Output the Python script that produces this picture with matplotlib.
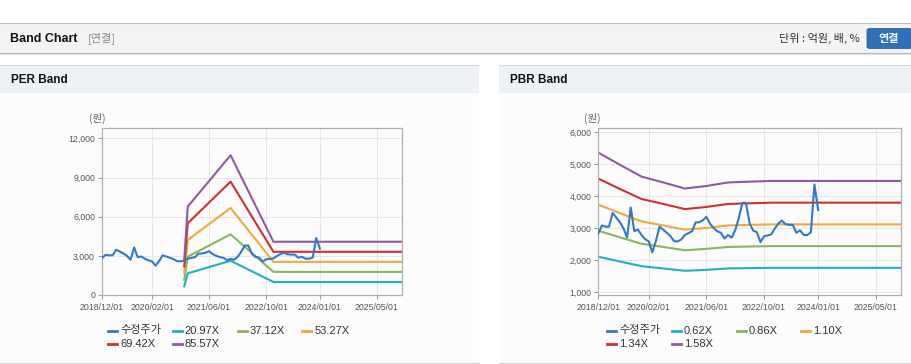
import numpy as np
import pandas as pd
import matplotlib
matplotlib.use('Agg')
import matplotlib.pyplot as plt
from matplotlib.patches import Rectangle, FancyBboxPatch
from matplotlib.lines import Line2D
from matplotlib.ticker import FuncFormatter

plt.rcParams['font.family'] = ['Liberation Sans', 'Noto Sans CJK KR']

# adjusted share price (수정주가), monthly 2018/12 .. 2024/01
price_dates = pd.date_range('2018-12-01', periods=62, freq='MS')
price = [2830, 3080, 3040, 3040, 3470, 3330, 3180, 3000, 2700, 3640,
         2900, 2950, 2780, 2650, 2580, 2240, 2600, 3040, 2950, 2850,
         2750, 2590, 2580, 2640, 2780, 2840, 2900, 3170, 3180, 3240,
         3350, 3140, 3000, 2900, 2850, 2670, 2780, 2700, 2950, 3300,
         3790, 3790, 3150, 2920, 2870, 2560, 2740, 2770, 2800, 2990,
         3150, 3230, 3120, 3100, 3100, 2850, 2930, 2780, 2780, 2870,
         4360, 3560]

# PER band lines
per_dates = pd.to_datetime(['2020-11-01', '2020-12-01', '2021-12-01', '2022-12-01', '2025-12-01'])
per_labels = ['20.97X', '37.12X', '53.27X', '69.42X', '85.57X']
per_2097 = [665, 1660, 2625, 1000, 1000]
per_3712 = [1177, 2940, 4647, 1771, 1771]
per_5327 = [1689, 4219, 6669, 2541, 2541]
per_6942 = [2201, 5498, 8691, 3311, 3311]
per_8557 = [2713, 6777, 10713, 4082, 4082]

# PBR band lines
pbr_dates = pd.to_datetime(['2018-12-01', '2019-06-01', '2019-12-01', '2020-06-01', '2020-12-01',
                            '2021-06-01', '2021-12-01', '2022-06-01', '2022-12-01', '2025-12-01'])
pbr_labels = ['0.62X', '0.86X', '1.10X', '1.34X', '1.58X']
pbr_062 = [2102, 1953, 1807, 1736, 1662, 1693, 1736, 1745, 1755, 1755]
pbr_086 = [2915, 2709, 2507, 2408, 2305, 2348, 2408, 2421, 2434, 2434]
pbr_110 = [3729, 3465, 3207, 3080, 2948, 3003, 3080, 3097, 3113, 3113]
pbr_134 = [4543, 4221, 3906, 3752, 3591, 3658, 3752, 3772, 3792, 3792]
pbr_158 = [5356, 4977, 4606, 4424, 4234, 4313, 4424, 4448, 4471, 4471]

tick_dates = pd.to_datetime(['2018-12-01', '2020-02-01', '2021-06-01', '2022-10-01',
                             '2024-01-01', '2025-05-01'])
x_start, x_end = pd.Timestamp('2018-12-01'), pd.Timestamp('2025-12-01')

price_color = '#3278cc'
band_colors = ['#20b0c2', '#8db55a', '#f4a73a', '#cf3030', '#8f5a9f']

W, H = 912, 364
fig = plt.figure(figsize=(W / 100, H / 100), dpi=100)
fig.patch.set_facecolor('white')


def fx(x):
    return x / W


def fy(y):
    return 1 - y / H


def box(x0, y0, x1, y1, color):
    fig.add_artist(Rectangle((fx(x0), fy(y1)), (x1 - x0) / W, (y1 - y0) / H,
                             transform=fig.transFigure, facecolor=color,
                             edgecolor='none', zorder=0))


def hline(x0, x1, y, color):
    fig.add_artist(Line2D([fx(x0), fx(x1)], [fy(y), fy(y)], transform=fig.transFigure,
                          color=color, lw=0.8, zorder=1))


# page header
hline(0, W, 22.5, '#c4c4c4')
box(0, 23, W, 53, '#f4f4f4')
hline(0, W, 53, '#b5b5b5')
hline(0, W, 54.2, '#e4e4e4')
fig.text(fx(10), fy(38.5), 'Band Chart', fontsize=9, fontweight='bold', color='#111',
         va='center', ha='left')
fig.text(fx(88), fy(38.5), '[연결]', fontsize=8, color='#888', va='center', ha='left',
         family=['Noto Sans CJK KR'])
fig.text(fx(860), fy(38.5), '단위 : 억원, 배, %', fontsize=8, color='#333', va='center',
         ha='right', family=['Noto Sans CJK KR'])
fig.add_artist(FancyBboxPatch((fx(867), fy(48.5)), 45 / W, 20 / H,
                              boxstyle='round,pad=0,rounding_size=0.004',
                              transform=fig.transFigure, facecolor='#2f70b6',
                              edgecolor='#2a63a3', lw=0.6, zorder=1))
fig.text(fx(889), fy(38.5), '연결', fontsize=8, fontweight='bold', color='white',
         va='center', ha='center', family=['Noto Sans CJK KR'])

# panels
for px0, px1, title in [(0, 479, 'PER Band'), (499, W, 'PBR Band')]:
    hline(px0, px1, 64.5, '#d6d9de')
    box(px0, 65, px1, 92.5, '#eef2f7')
    box(px0, 92.5, px1, 362, '#fcfcfd')
    hline(px0, px1, 362.5, '#d4d4d4')
    fig.text(fx(px0 + 11), fy(80), title, fontsize=8.5, fontweight='bold', color='#111',
             va='center', ha='left')


def setup_axes(rect, ylim, yticks):
    ax = fig.add_axes(rect)
    ax.set_facecolor('#fcfcfd')
    ax.set_xlim(x_start, x_end)
    ax.set_ylim(*ylim)
    ax.set_yticks(yticks)
    ax.set_xticks(tick_dates)
    ax.set_xticklabels([d.strftime('%Y/%m/%d') for d in tick_dates])
    ax.yaxis.set_major_formatter(FuncFormatter(lambda v, p: f'{v:,.0f}'))
    ax.grid(True, color='#e6e6e6', lw=0.7)
    ax.set_axisbelow(True)
    for s in ax.spines.values():
        s.set_color('#b0b0b0')
        s.set_linewidth(0.9)
    ax.tick_params(axis='both', labelsize=6.3, labelcolor='#555', color='#999',
                   length=3, width=0.7, pad=2)
    ax.tick_params(axis='x', pad=3)
    return ax


def draw_legend(handles, labels, x0, y0):
    for i, (h, lab) in enumerate(zip(handles, labels)):
        x = x0 + (i % 4) * 64.8
        y = y0 + (i // 4) * 13.5
        fig.add_artist(Line2D([fx(x), fx(x + 9)], [fy(y), fy(y)], transform=fig.transFigure,
                              color=h.get_color(), lw=2))
        fig.text(fx(x + 12), fy(y), lab, fontsize=8, color='#333', va='center', ha='left')


# PER chart
ax1 = setup_axes([fx(102), fy(295), 300 / W, 167 / H], (0, 12800),
                 [0, 3000, 6000, 9000, 12000])
per_bands = [per_2097, per_3712, per_5327, per_6942, per_8557]
h1 = []
for vals, c in zip(per_bands, band_colors):
    h1 += ax1.plot(per_dates, vals, color=c, lw=1.5)
hp1, = ax1.plot(price_dates, price, color=price_color, lw=1.5, zorder=5)
fig.text(fx(97), fy(118), '(원)', fontsize=7.5, color='#666', ha='center', va='center',
         family=['Noto Sans CJK KR'])
draw_legend([hp1] + h1, ['수정주가'] + per_labels, 108, 330.5)

# PBR chart
ax2 = setup_axes([fx(598.3), fy(295), 302.7 / W, 166.7 / H], (906, 6116),
                 [1000, 2000, 3000, 4000, 5000, 6000])
pbr_bands = [pbr_062, pbr_086, pbr_110, pbr_134, pbr_158]
h2 = []
for vals, c in zip(pbr_bands, band_colors):
    h2 += ax2.plot(pbr_dates, vals, color=c, lw=1.5)
hp2, = ax2.plot(price_dates, price, color=price_color, lw=1.5, zorder=5)
fig.text(fx(592), fy(118), '(원)', fontsize=7.5, color='#666', ha='center', va='center',
         family=['Noto Sans CJK KR'])
draw_legend([hp2] + h2, ['수정주가'] + pbr_labels, 607, 330.5)

fig.savefig('out.png', dpi=100, facecolor=fig.get_facecolor())
